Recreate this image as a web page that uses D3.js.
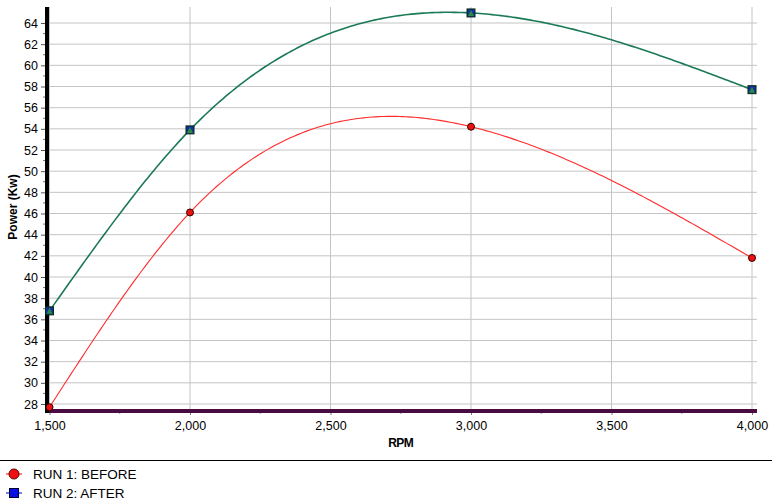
<!DOCTYPE html>
<html>
<head>
<meta charset="utf-8">
<script src="https://cdn.jsdelivr.net/npm/d3@7/dist/d3.min.js"></script>
<style>
  body { margin: 0; background: #fff; }
  svg text { font-family: "Liberation Sans", Arial, sans-serif; }
</style>
</head>
<body>
<div id="chart"></div>
<script>
var rpm = [1500, 2000, 3000, 4000];
var before = [27.7, 46.1, 54.2, 41.8];
var after = [36.8, 53.9, 64.95, 57.7];
var seriesNames = ["RUN 1: BEFORE", "RUN 2: AFTER"];
var yTicks = d3.range(28, 65, 2);
var xTicks = [1500, 2000, 2500, 3000, 3500, 4000];

var width = 772, height = 504;

var svg = d3.select('#chart').append('svg')
    .attr('width', width).attr('height', height);

var x = d3.scaleLinear().domain([1500, 4000]).range([49.5, 752]);
var y = d3.scaleLinear().domain([28, 64]).range([404, 23]);

var plotTop = 7, plotBottom = 411, plotLeft = 47, plotRight = 757;

// natural cubic spline through the points, as a function of x
function splineX(context) {
    var pts;
    return {
        areaStart: function () {},
        areaEnd: function () {},
        lineStart: function () { pts = []; },
        point: function (px, py) { pts.push([+px, +py]); },
        lineEnd: function () {
            var n = pts.length;
            if (!n) return;
            var h = [], d = [], i;
            for (i = 0; i < n - 1; i++) {
                h[i] = pts[i + 1][0] - pts[i][0];
                d[i] = (pts[i + 1][1] - pts[i][1]) / h[i];
            }
            // solve tridiagonal system for second derivatives
            var M = new Array(n).fill(0);
            var a = [], b = [], c = [], r = [];
            for (i = 1; i < n - 1; i++) {
                a.push(h[i - 1]); b.push(2 * (h[i - 1] + h[i])); c.push(h[i]);
                r.push(6 * (d[i] - d[i - 1]));
            }
            var m = b.length;
            for (i = 1; i < m; i++) {
                var w = a[i] / b[i - 1];
                b[i] -= w * c[i - 1];
                r[i] -= w * r[i - 1];
            }
            for (i = m - 1; i >= 0; i--) {
                M[i + 1] = (r[i] - (i < m - 1 ? c[i] * M[i + 2] : 0)) / b[i];
            }
            context.moveTo(pts[0][0], pts[0][1]);
            for (i = 0; i < n - 1; i++) {
                var steps = Math.max(2, Math.ceil(h[i] / 3));
                for (var s = 1; s <= steps; s++) {
                    var t = h[i] * s / steps;
                    var yy = pts[i][1] + (d[i] - h[i] * (2 * M[i] + M[i + 1]) / 6) * t
                        + M[i] * t * t / 2 + (M[i + 1] - M[i]) * t * t * t / (6 * h[i]);
                    context.lineTo(pts[i][0] + t, yy);
                }
            }
        }
    };
}

// grid
svg.append('g').selectAll('line')
   .data(yTicks)
   .enter().append('line')
   .attr('x1', plotLeft).attr('x2', plotRight)
   .attr('y1', function (d) { return y(d); })
   .attr('y2', function (d) { return y(d); })
   .attr('stroke', '#c4c4c4').attr('stroke-width', 1);

svg.append('g').selectAll('line')
   .data(xTicks)
   .enter().append('line')
   .attr('x1', function (d) { return x(d); })
   .attr('x2', function (d) { return x(d); })
   .attr('y1', plotTop).attr('y2', plotBottom)
   .attr('stroke', '#c4c4c4').attr('stroke-width', 1);

// y axis
var yAxis = d3.axisLeft(y).tickValues(yTicks).tickSize(5).tickPadding(3);
var gy = svg.append('g').attr('transform', 'translate(' + (plotLeft - 1) + ',0)').call(yAxis);
gy.select('.domain').remove();
gy.selectAll('.tick line').attr('stroke', '#555');
gy.selectAll('text').attr('font-size', 12.5).attr('fill', '#000');

svg.append('g').selectAll('line')
   .data(d3.range(29, 65, 2))
   .enter().append('line')
   .attr('x1', plotLeft - 4).attr('x2', plotLeft)
   .attr('y1', function (d) { return y(d); })
   .attr('y2', function (d) { return y(d); })
   .attr('stroke', '#777');

// x axis
var xAxis = d3.axisBottom(x).tickValues(xTicks).tickSize(4).tickPadding(6)
    .tickFormat(d3.format(','));
var gx = svg.append('g').attr('transform', 'translate(0,' + plotBottom + ')').call(xAxis);
gx.select('.domain').remove();
gx.selectAll('.tick line').attr('stroke', '#777');
gx.selectAll('text').attr('font-size', 12.5).attr('fill', '#000');

svg.append('g').selectAll('line')
   .data(d3.range(1750, 4000, 500))
   .enter().append('line')
   .attr('x1', function (d) { return x(d); })
   .attr('x2', function (d) { return x(d); })
   .attr('y1', plotBottom).attr('y2', plotBottom + 3)
   .attr('stroke', '#999');

// axis lines
svg.append('line')
   .attr('x1', plotLeft).attr('x2', plotRight)
   .attr('y1', plotBottom).attr('y2', plotBottom)
   .attr('stroke', '#4a0a44').attr('stroke-width', 4);
svg.append('line')
   .attr('x1', plotLeft).attr('x2', plotLeft)
   .attr('y1', plotTop).attr('y2', plotBottom + 2)
   .attr('stroke', '#000').attr('stroke-width', 4);

// titles
svg.append('text')
   .attr('x', x(2750)).attr('y', 447)
   .attr('text-anchor', 'middle').attr('font-size', 12).attr('font-weight', 'bold')
   .attr('letter-spacing', -0.5)
   .text('RPM');
svg.append('text')
   .attr('transform', 'translate(17,' + 207 + ') rotate(-90)')
   .attr('text-anchor', 'middle').attr('font-size', 12).attr('font-weight', 'bold')
   .text('Power (Kw)');

// lines
var line = d3.line()
    .x(function (d, i) { return x(rpm[i]); })
    .y(function (d) { return y(d); })
    .curve(splineX);

svg.append('path').datum(before)
   .attr('d', line).attr('fill', 'none')
   .attr('stroke', '#ff2a2a').attr('stroke-width', 1.1);
svg.append('path').datum(after)
   .attr('d', line).attr('fill', 'none')
   .attr('stroke', '#1b7a55').attr('stroke-width', 1.6);

// markers
svg.append('g').selectAll('circle')
   .data(before)
   .enter().append('circle')
   .attr('cx', function (d, i) { return x(rpm[i]); })
   .attr('cy', function (d) { return y(d); })
   .attr('r', 3.5)
   .attr('fill', '#ee1111').attr('stroke', '#300').attr('stroke-width', 1);

var sq = svg.append('g').selectAll('g')
   .data(after)
   .enter().append('g')
   .attr('transform', function (d, i) { return 'translate(' + x(rpm[i]) + ',' + y(d) + ')'; });
sq.append('rect')
   .attr('x', -4).attr('y', -4).attr('width', 8).attr('height', 8)
   .attr('fill', '#1030a0').attr('stroke', '#0a2a10').attr('stroke-width', 1);
sq.append('path')
   .attr('d', 'M0,-3L3,3L-3,3Z')
   .attr('fill', '#2a8a40');

// legend
svg.append('line')
   .attr('x1', 0).attr('x2', width)
   .attr('y1', 460.5).attr('y2', 460.5)
   .attr('stroke', '#000').attr('stroke-width', 1);

var legend = svg.append('g').selectAll('g')
   .data(seriesNames)
   .enter().append('g')
   .attr('transform', function (d, i) { return 'translate(0,' + (474 + i * 19) + ')'; });
legend.append('line')
   .attr('x1', 6).attr('x2', 22)
   .attr('stroke', function (d, i) { return i === 0 ? '#ff2a2a' : '#1030d0'; })
   .attr('stroke-width', 1.2);
legend.append('circle')
   .filter(function (d, i) { return i === 0; })
   .attr('cx', 14).attr('r', 5)
   .attr('fill', '#ee1111').attr('stroke', '#600');
legend.append('rect')
   .filter(function (d, i) { return i === 1; })
   .attr('x', 9.5).attr('y', -4.5).attr('width', 9).attr('height', 9)
   .attr('fill', '#0a10e0').attr('stroke', '#003');
legend.append('text')
   .attr('x', 33).attr('y', 5)
   .attr('font-size', 13.5).attr('fill', '#000')
   .text(function (d) { return d; });
</script>
</body>
</html>
